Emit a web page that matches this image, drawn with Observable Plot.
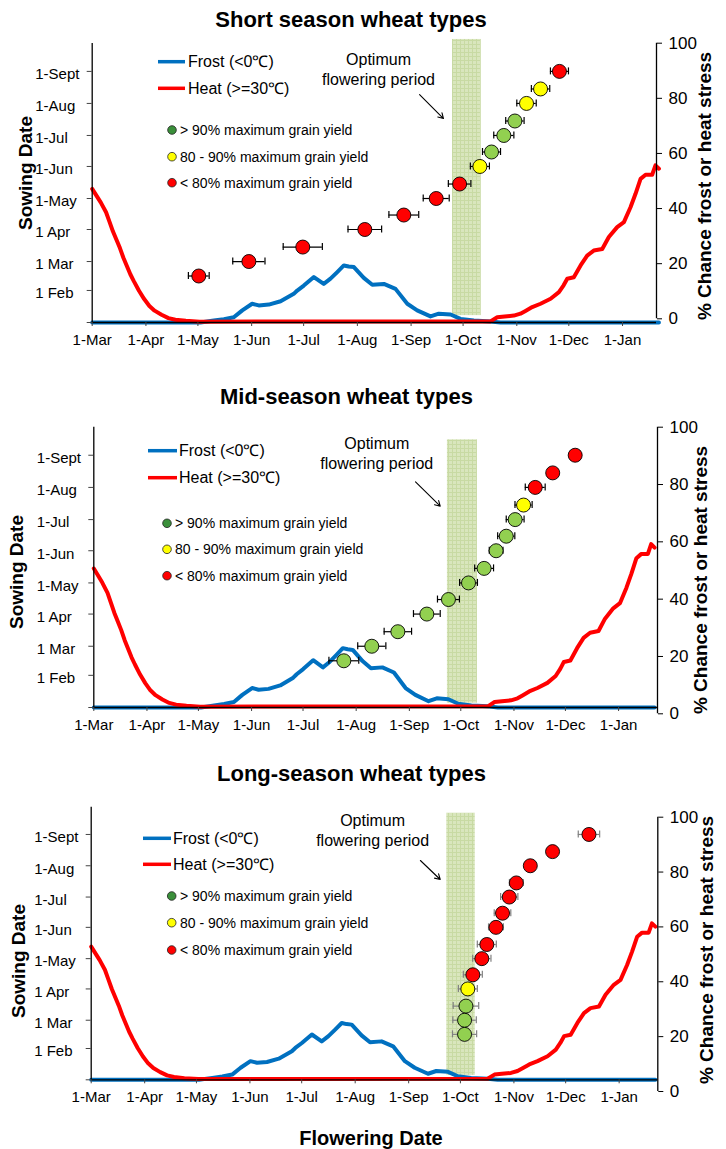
<!DOCTYPE html>
<html>
<head>
<meta charset="utf-8">
<script src="https://cdn.jsdelivr.net/npm/d3@7"></script>
<script src="https://cdn.jsdelivr.net/npm/@observablehq/plot@0.6"></script>
<style>
  body { margin: 0; background: #fff; }
  #root { position: relative; width: 726px; height: 1149px; overflow: hidden; font-family: "Liberation Sans", Arial, Helvetica, sans-serif; }
  #root > svg { position: absolute; left: 0; }
</style>
</head>
<body>
<div id="root"></div>
<script>
// ---------------- DATA ----------------
const titles = ["Short season wheat types", "Mid-season wheat types", "Long-season wheat types"];

// sowing dates (same 14 sowings in every panel)
const sowingDates = ["2001-02-15","2001-03-01","2001-03-15","2001-04-01","2001-04-15","2001-05-01","2001-05-15",
                     "2001-06-01","2001-06-15","2001-07-01","2001-07-15","2001-08-01","2001-08-15","2001-09-01"];

// mean flowering date, days after 1 March
const floweringShort = [61.5, 90.4, 121.5, 157.3, 179.8, 198.5, 212, 223.7, 230.4, 237.5, 243.9, 250.6, 258.7, 269.6];
const floweringMid   = [145.8, 162.1, 177.3, 194.2, 206.8, 218.5, 227.6, 234.6, 240.5, 245.7, 250.6, 257.4, 267.6, 280.7];
const floweringLong  = [216.4, 216.4, 217.2, 218.3, 221.2, 226.4, 229.3, 234.6, 238.4, 242.3, 246.4, 254.5, 267.4, 288.5];

// error bar half-widths, days
const errShort = [6, 9.3, 11.3, 9.7, 8.6, 7.5, 6.5, 5.5, 5.2, 5.8, 5.3, 5.6, 5.3, 5.2];
const errMid   = [8.7, 8.2, 8, 7.8, 6.4, 5.2, 5.5, 4, 5, 5.2, 5, 5.8, 2, 1];
const errLong  = [7, 6.8, 7.4, 5.5, 5.5, 5.3, 5.5, 4.3, 4.8, 5, 4, 1.5, 1.5, 6.2];

// yield class: high = >90%, mid = 80-90%, low = <80% of maximum grain yield
const classShort = ["low","low","low","low","low","low","low","mid","high","high","high","mid","mid","low"];
const classMid   = ["high","high","high","high","high","high","high","high","high","high","mid","low","low","low"];
const classLong  = ["high","high","high","mid","low","low","low","low","low","low","low","low","low","low"];

const yieldClasses = ["high", "mid", "low"];
const yieldLabels = ["> 90% maximum grain yield", "80 - 90% maximum grain yield", "< 80% maximum grain yield"];
const pointColors = ["#92d050", "#ffff00", "#ff0000"];
const legendDotColors = ["#3a8f3a", "#ffff00", "#ff0000"];

// chance of heat (>=30C) and frost (<0C), % ; x = days after 1 March
const heatDay = [0,3,5,8,10,12,14,16,18,20,22,24,27,30,33,36,40,44,48,54,62,229.8,233.7,238,243.3,247.1,250,253.9,258.7,264.5,269.3,272,274.1,277.9,281.8,285.6,289.4,294.3,298.1,302.9,306.8,310.6,313.5,316.4,319.3,323.1,325,327];
const heatPct = [48.5,45.5,43.5,40,36.5,33,30,27,23.5,20.5,17.5,15,11.5,8.5,6,4.3,2.8,1.6,1.0,0.6,0.3,0.4,1.9,2.2,2.5,3.2,4.2,5.6,6.8,8.6,11,13.5,15.9,16.4,20.7,24.3,26.1,26.7,31,34.6,36.4,41.8,46.7,52.1,53.6,53.6,57,55.8];
const frostDay = [0,62.5,70.2,76,81.7,86.6,92.3,96.1,101.9,108.7,116.3,118.3,122.1,127.9,133.6,137.5,141.4,145.2,148,151,156.7,161.6,168.3,175,181.8,187.5,195.2,200,206.8,212.5,220.2,229.8,235.6,327];
const frostPct = [0,0,0.7,1.2,1.9,4.4,6.8,6.2,6.5,7.7,10.4,11.6,13.4,16.5,14.0,15.9,18.3,20.7,20.3,20.1,16.2,13.7,14.0,12.2,6.8,4.4,2.2,3.2,2.9,1.3,0.7,0.4,0,0];

// optimum flowering period (days after 1 March) per panel
const optimumStart = [207.9, 206.2, 206.1];
const optimumEnd   = [224.5, 223.7, 222.6];

// axis ticks
const sowTickDates  = ["2001-01-01","2001-02-01","2001-03-01","2001-04-01","2001-05-01","2001-06-01","2001-07-01","2001-08-01","2001-09-01"];
const sowLabelDates = ["2001-02-01","2001-03-01","2001-04-01","2001-05-01","2001-06-01","2001-07-01","2001-08-01","2001-09-01"];
const sowLabels     = ["1 Feb","1 Mar","1 Apr","1-May","1-Jun","1-Jul","1-Aug","1-Sept"];
const monthTicks    = ["2001-03-01","2001-04-01","2001-05-01","2001-06-01","2001-07-01","2001-08-01","2001-09-01","2001-10-01","2001-11-01","2001-12-01","2002-01-01"];
const pctTicks      = [0, 20, 40, 60, 80, 100];

// ---------------- LAYOUT ----------------
const FONT = '"Liberation Sans", Arial, Helvetica, sans-serif';
const MS = 864e5;
const seasonStart = Date.UTC(2001, 2, 1);
const yearStart = Date.UTC(2001, 0, 1);
const fDate = d => new Date(seasonStart + d * MS);
const sDate = d => new Date(yearStart + d * MS);

const panels = [
  {top: 0,   H: 370, ml: 91.7, mr: 70,   fTop: 43,   fBot: 322,   xEnd: 325.6, lTop: 46.4, pTop: 42.7, pBot: 318.3,
   rectLo: 2.5, rectHi: 102.7, bar: "#000",
   ann: {x: 165.2, y: 245.8, ax1: 188.9, ay1: 220.6, ax2: 202.7, ay2: 197.4}},
  {top: 380, H: 370, ml: 93.3, mr: 69,   fTop: 46.7, fBot: 327,   xEnd: 328.7, lTop: 40.4, pTop: 46.7, pBot: 333.3,
   rectLo: 1.5, rectHi: 93.4, bar: "#000",
   ann: {x: 165, y: 245.9, ax1: 187.6, ay1: 217.3, ax2: 202, ay2: 193.9}},
  {top: 760, H: 389, ml: 90.7, mr: 68.7, fTop: 46.7, fBot: 319.3, xEnd: 328.4, lTop: 44.8, pTop: 56.7, pBot: 331,
   rectLo: 1.6, rectHi: 97.1, bar: "#808080",
   ann: {x: 163.1, y: 247.9, ax1: 190.8, ay1: 217.2, ax2: 202.3, ay2: 198.4}}
];
const overlays = [
  {title: [351, 27.3],   sow: [25, 173], pct: [704, 186], lx1: 158, lx2: 185, ltx: 188, yF: 61.7,  yH: 88.3,  dx: 172,   dys: [130, 156.7, 182.7], dtx: 180},
  {title: [346.5, 404],  sow: [16, 572], pct: [700, 580], lx1: 148, lx2: 177, ltx: 179, yF: 450.7, yH: 477.7, dx: 167,   dys: [523.3, 549.3, 575.7], dtx: 175},
  {title: [351.5, 780.7],sow: [18, 961], pct: [706, 950], lx1: 143, lx2: 171, ltx: 173, yF: 838.3, yH: 864.3, dx: 171.7, dys: [896, 922.7, 950], dtx: 180}
];

const flowering = [floweringShort, floweringMid, floweringLong];
const errs = [errShort, errMid, errLong];
const classes = [classShort, classMid, classLong];

const heat = heatDay.map((d, i) => ({date: fDate(d), pct: heatPct[i]}));
const frost = frostDay.map((d, i) => ({date: fDate(d), pct: frostPct[i]}));
const labelMap = new Map(sowLabelDates.map((d, i) => [+new Date(d), sowLabels[i]]));

const root = document.getElementById("root");

// pattern definition for the optimum period box
const defs = d3.select(root).append("svg").attr("width", 0).attr("height", 0).style("top", "0px");
const pat = defs.append("defs").append("pattern").attr("id", "optPat")
  .attr("width", 4).attr("height", 4).attr("patternUnits", "userSpaceOnUse");
pat.append("rect").attr("width", 4).attr("height", 4).attr("fill", "#d9e6bd");
pat.append("path").attr("d", "M0 0.5H4M0.5 0V4").attr("stroke", "#c8daa3").attr("stroke-width", 1);

const baseStyle = {fontFamily: FONT, fontSize: "15px", color: "#000", background: "transparent", overflow: "visible"};

function place(svg, top) {
  svg.style.position = "absolute";
  svg.style.top = top + "px";
  svg.style.left = "0px";
  root.appendChild(svg);
}

panels.forEach((P, i) => {
  const xDomain = [fDate(0), fDate(P.xEnd)];

  // lines + optimum period
  const lines = Plot.plot({
    width: 726, height: P.H,
    marginLeft: P.ml, marginRight: P.mr, marginTop: P.lTop, marginBottom: P.H - P.fBot,
    x: {type: "utc", domain: xDomain, axis: null, label: null},
    y: {domain: [0, 100], axis: null, label: null},
    style: baseStyle,
    marks: [
      Plot.rect([{from: optimumStart[i], to: optimumEnd[i]}], {
        x1: d => fDate(d.from), x2: d => fDate(d.to), y1: () => P.rectLo, y2: () => P.rectHi, fill: "url(#optPat)"
      }),
      Plot.line(frost, {x: "date", y: "pct", stroke: "#0070c0", strokeWidth: 4}),
      Plot.line(heat, {x: "date", y: "pct", stroke: "#ff0000", strokeWidth: 4})
    ]
  });
  place(lines, P.top);

  // right axis (% chance)
  const right = Plot.plot({
    width: 726, height: P.H,
    marginLeft: P.ml, marginRight: P.mr, marginTop: P.pTop, marginBottom: P.H - P.pBot,
    x: {type: "utc", domain: xDomain, axis: null, label: null},
    y: {domain: [0, 100], axis: null, label: null},
    style: baseStyle,
    marks: [
      Plot.ruleX([xDomain[1]], {stroke: "#000", strokeWidth: 1.3}),
      Plot.axisY(pctTicks, {anchor: "right", tickSize: 5, tickPadding: 7, fontSize: 17, label: null})
    ]
  });
  place(right, P.top);

  // sowing date points
  const rows = sowingDates.map((s, j) => ({
    sow: new Date(s),
    flo: fDate(flowering[i][j]),
    lo: fDate(flowering[i][j] - errs[i][j]),
    hi: fDate(flowering[i][j] + errs[i][j]),
    cls: classes[i][j]
  }));
  const A = P.ann;
  const pts = Plot.plot({
    width: 726, height: P.H,
    marginLeft: P.ml, marginRight: P.mr, marginTop: P.fTop, marginBottom: P.H - P.fBot,
    x: {type: "utc", domain: xDomain, axis: null, label: null},
    y: {type: "utc", domain: [sDate(0), sDate(270)], axis: null, label: null},
    color: {domain: yieldClasses, range: pointColors},
    style: baseStyle,
    marks: [
      Plot.ruleX([xDomain[0]], {stroke: "#000", strokeWidth: 1.3}),
      Plot.ruleY([sDate(0)], {stroke: "#000", strokeWidth: 1.3}),
      Plot.axisY(sowTickDates.map(d => new Date(d)), {anchor: "left", tickSize: 5, tickFormat: () => "", stroke: "#444", label: null}),
      Plot.axisY(sowLabelDates.map(d => new Date(d)), {anchor: "left", tickSize: 0, tickPadding: 57, textAnchor: "start", dy: 3,
        tickFormat: d => labelMap.get(+d), fontSize: 15, label: null}),
      Plot.axisX(monthTicks.map(d => new Date(d)), {anchor: "bottom", tickSize: 4, tickPadding: 8,
        tickFormat: d3.utcFormat("%-d-%b"), fontSize: 15, stroke: "#444", label: null}),
      Plot.ruleY(rows, {y: "sow", x1: "lo", x2: "hi", stroke: P.bar, strokeWidth: 1.2}),
      Plot.ruleX(rows, {x: "lo", y1: "sow", y2: "sow", insetTop: -3.5, insetBottom: -3.5, stroke: P.bar, strokeWidth: 1.2}),
      Plot.ruleX(rows, {x: "hi", y1: "sow", y2: "sow", insetTop: -3.5, insetBottom: -3.5, stroke: P.bar, strokeWidth: 1.2}),
      Plot.dot(rows, {x: "flo", y: "sow", r: 7, fill: "cls", stroke: "#000", strokeWidth: 0.9}),
      Plot.text([A], {x: d => fDate(d.x), y: d => sDate(d.y), text: () => "Optimum\nflowering period",
        textAnchor: "middle", lineAnchor: "middle", fontSize: 16, lineHeight: 1.25, fill: "#000"}),
      Plot.arrow([A], {x1: d => fDate(d.ax1), y1: d => sDate(d.ay1), x2: d => fDate(d.ax2), y2: d => sDate(d.ay2),
        stroke: "#000", strokeWidth: 1.1, headLength: 8})
    ]
  });
  place(pts, P.top);
});

// ---------------- OVERLAY TEXT / LEGENDS ----------------
const ov = d3.select(root).append("svg").attr("width", 726).attr("height", 1149)
  .style("top", "0px").style("pointer-events", "none").style("font-family", FONT);

overlays.forEach((o, i) => {
  ov.append("text").attr("x", o.title[0]).attr("y", o.title[1]).attr("text-anchor", "middle")
    .attr("font-size", 22).attr("font-weight", "bold").text(titles[i]);
  ov.append("text").attr("transform", `translate(${o.sow[0]},${o.sow[1]}) rotate(-90)`)
    .attr("text-anchor", "middle").attr("dominant-baseline", "central")
    .attr("font-size", 19).attr("font-weight", "bold").text("Sowing Date");
  ov.append("text").attr("transform", `translate(${o.pct[0]},${o.pct[1]}) rotate(-90)`)
    .attr("text-anchor", "middle").attr("dominant-baseline", "central")
    .attr("font-size", 19).attr("font-weight", "bold").text("% Chance frost or heat stress");

  // line legend
  [["Frost (<0℃)", "#0070c0", o.yF], ["Heat (>=30℃)", "#ff0000", o.yH]].forEach(([lab, col, y]) => {
    ov.append("line").attr("x1", o.lx1).attr("x2", o.lx2).attr("y1", y).attr("y2", y)
      .attr("stroke", col).attr("stroke-width", 3.5);
    ov.append("text").attr("x", o.ltx).attr("y", y).attr("dominant-baseline", "central")
      .attr("font-size", 16).text(lab);
  });
  // yield class legend
  yieldLabels.forEach((lab, k) => {
    ov.append("circle").attr("cx", o.dx).attr("cy", o.dys[k]).attr("r", 4.3)
      .attr("fill", legendDotColors[k]).attr("stroke", "#222").attr("stroke-width", 0.8);
    ov.append("text").attr("x", o.dtx).attr("y", o.dys[k]).attr("dominant-baseline", "central")
      .attr("font-size", 14).text(lab);
  });
});

ov.append("text").attr("x", 371).attr("y", 1138).attr("text-anchor", "middle").attr("dominant-baseline", "central")
  .attr("font-size", 20).attr("font-weight", "bold").text("Flowering Date");
</script>
</body>
</html>
